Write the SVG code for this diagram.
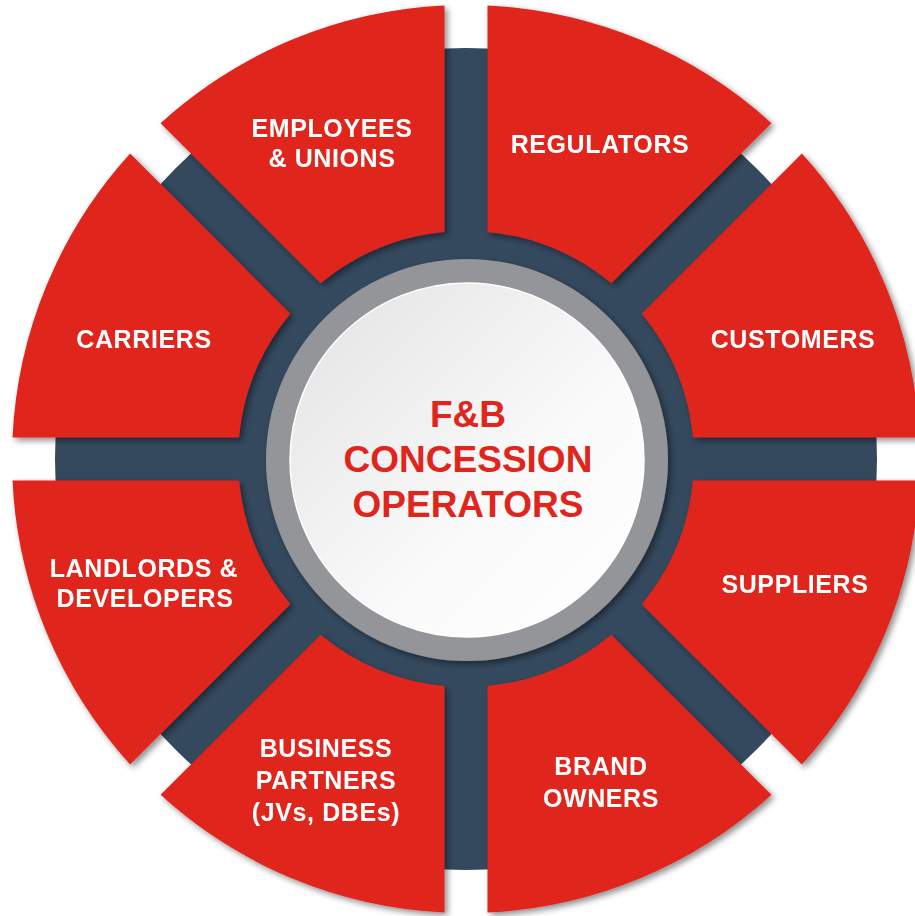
<svg xmlns="http://www.w3.org/2000/svg" width="915" height="916" viewBox="0 0 915 916">
  <style>
    .wedge { fill: #E0251C; }
    .lbl { font-family: "Liberation Sans", Arial, sans-serif; font-weight: bold; font-size: 25px; fill: #FFFFFF; text-anchor: middle; letter-spacing: 0.6px; }
    .ctr { font-family: "Liberation Sans", Arial, sans-serif; font-weight: bold; font-size: 37px; fill: #E0251C; text-anchor: middle; }
  </style>
  <defs>
    <filter id="sh" x="-20%" y="-20%" width="140%" height="140%">
      <feDropShadow dx="3" dy="3" stdDeviation="3" flood-color="#000000" flood-opacity="0.45"/>
    </filter>
    <linearGradient id="wg" x1="0" y1="0" x2="1" y2="1">
      <stop offset="0" stop-color="#E2E2E2"/>
      <stop offset="0.6" stop-color="#FAFAFA"/>
      <stop offset="1" stop-color="#FFFFFF"/>
    </linearGradient>
    <path id="wp" d="M226.98,21.5 L453.49,21.5 A454,454 0 0 1 335.87,305.47 L175.70,145.30 A228,228 0 0 0 226.98,21.5 Z"/>
  </defs>
  <rect width="915" height="916" fill="#FFFFFF"/>
  <g id="hub-base">
    <circle cx="466" cy="459" r="411" fill="#34495E"/>
  </g>
  <g id="supplier" filter="url(#sh)">
    <use href="#wp" class="wedge" transform="translate(466,459) rotate(0)"/>
    <text class="lbl" x="795" y="593">SUPPLIERS</text>
  </g>
  <g id="brand-owners" filter="url(#sh)">
    <use href="#wp" class="wedge" transform="translate(466,459) rotate(45)"/>
    <text class="lbl" x="601" y="775">BRAND</text>
    <text class="lbl" x="601" y="807">OWNERS</text>
  </g>
  <g id="business-partners" filter="url(#sh)">
    <use href="#wp" class="wedge" transform="translate(466,459) rotate(90)"/>
    <text class="lbl" x="326" y="757">BUSINESS</text>
    <text class="lbl" x="326" y="789">PARTNERS</text>
    <text class="lbl" x="326" y="821">(JVs, DBEs)</text>
  </g>
  <g id="landlords" filter="url(#sh)">
    <use href="#wp" class="wedge" transform="translate(466,459) rotate(135)"/>
    <text class="lbl" x="144" y="577">LANDLORDS &amp;</text>
    <text class="lbl" x="145" y="607">DEVELOPERS</text>
  </g>
  <g id="carriers" filter="url(#sh)">
    <use href="#wp" class="wedge" transform="translate(466,459) rotate(180)"/>
    <text class="lbl" x="144" y="348">CARRIERS</text>
  </g>
  <g id="employees" filter="url(#sh)">
    <use href="#wp" class="wedge" transform="translate(466,459) rotate(225)"/>
    <text class="lbl" x="332" y="137">EMPLOYEES</text>
    <text class="lbl" x="332" y="167">&amp; UNIONS</text>
  </g>
  <g id="regulators" filter="url(#sh)">
    <use href="#wp" class="wedge" transform="translate(466,459) rotate(270)"/>
    <text class="lbl" x="600" y="153">REGULATORS</text>
  </g>
  <g id="customers" filter="url(#sh)">
    <use href="#wp" class="wedge" transform="translate(466,459) rotate(315)"/>
    <text class="lbl" x="793" y="348">CUSTOMERS</text>
  </g>
  <g id="center">
    <circle cx="467" cy="460" r="201" fill="#939598" filter="url(#sh)"/>
    <circle cx="467" cy="460" r="177" fill="url(#wg)" stroke="#FFFFFF" stroke-width="1.5"/>
    <text class="ctr" x="468" y="427">F&amp;B</text>
    <text class="ctr" x="468" y="472">CONCESSION</text>
    <text class="ctr" x="468" y="517">OPERATORS</text>
  </g>
  <g id="connectors"/>
</svg>
